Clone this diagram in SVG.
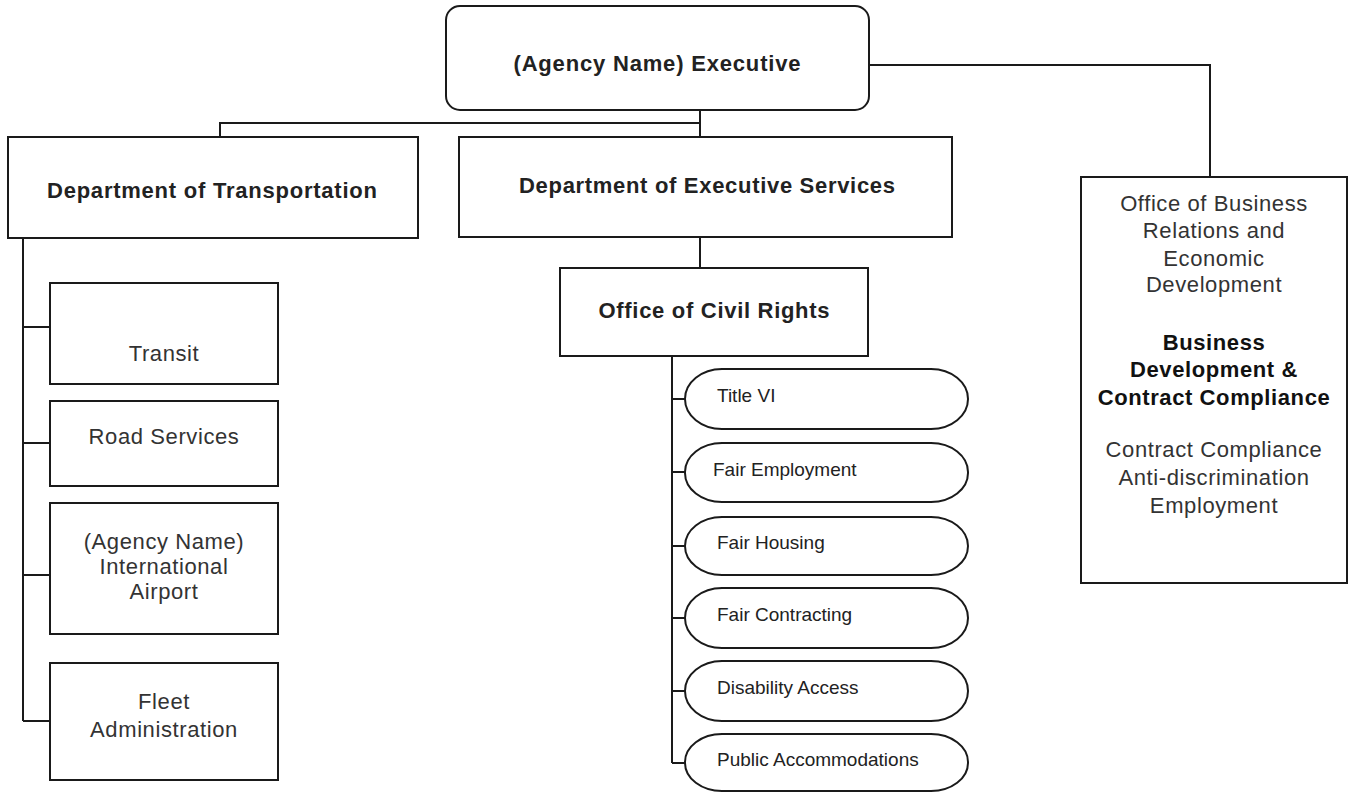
<svg xmlns="http://www.w3.org/2000/svg" width="1349" height="793" viewBox="0 0 1349 793">
<style>
.box{fill:#fff;stroke:#1a1a1a;stroke-width:2}
.pill{fill:#fff;stroke:#1a1a1a;stroke-width:2}
.ln{fill:none;stroke:#1a1a1a;stroke-width:2}
.h{font-family:"Liberation Sans",Arial,sans-serif;font-weight:bold;font-size:22px;fill:#222;text-anchor:middle}
.t{font-family:"Liberation Sans",Arial,sans-serif;font-size:22px;letter-spacing:0.6px;fill:#333;text-anchor:middle}
.p{font-family:"Liberation Sans",Arial,sans-serif;font-size:19px;fill:#222}
.b{font-family:"Liberation Sans",Arial,sans-serif;font-weight:bold;font-size:22px;letter-spacing:0.6px;fill:#111;text-anchor:middle}
</style>
<rect width="1349" height="793" fill="#fff"/>
<g id="connectors">
<path class="ln" d="M869 65H1210V177"/>
<path class="ln" d="M700 110V137"/>
<path class="ln" d="M220 137V123H700"/>
<path class="ln" d="M700 237V268"/>
<path class="ln" d="M23 238V721"/>
<path class="ln" d="M23 327H50M23 443H50M23 575H50M23 721H50"/>
<path class="ln" d="M672 356V763"/>
<path class="ln" d="M672 399H685M672 472H685M672 546H685M672 618H685M672 691H685M672 763H685"/>
</g>
<g id="exec">
<rect class="box" x="446" y="6" width="423" height="104" rx="14"/>
<text class="h" x="657" y="71" textLength="287" lengthAdjust="spacing">(Agency Name) Executive</text>
</g>
<g id="dot">
<rect class="box" x="8" y="137" width="410" height="101"/>
<text class="h" x="212" y="198" textLength="330" lengthAdjust="spacing">Department of Transportation</text>
</g>
<g id="des">
<rect class="box" x="459" y="137" width="493" height="100"/>
<text class="h" x="707" y="193" textLength="376" lengthAdjust="spacing">Department of Executive Services</text>
</g>
<g id="ocr">
<rect class="box" x="560" y="268" width="308" height="88"/>
<text class="h" x="714" y="318" textLength="231" lengthAdjust="spacing">Office of Civil Rights</text>
</g>
<g id="obr">
<rect class="box" x="1081" y="177" width="266" height="406"/>
<text class="t" x="1214" y="211">Office of Business</text>
<text class="t" x="1214" y="238">Relations and</text>
<text class="t" x="1214" y="266">Economic</text>
<text class="t" x="1214" y="292">Development</text>
<text class="b" x="1214" y="350">Business</text>
<text class="b" x="1214" y="377">Development &amp;</text>
<text class="b" x="1214" y="405">Contract Compliance</text>
<text class="t" x="1214" y="457">Contract Compliance</text>
<text class="t" x="1214" y="485">Anti-discrimination</text>
<text class="t" x="1214" y="513">Employment</text>
</g>
<g id="transit">
<rect class="box" x="50" y="283" width="228" height="101"/>
<text class="t" x="164" y="361">Transit</text>
</g>
<g id="road">
<rect class="box" x="50" y="401" width="228" height="85"/>
<text class="t" x="164" y="444">Road Services</text>
</g>
<g id="airport">
<rect class="box" x="50" y="503" width="228" height="131"/>
<text class="t" x="164" y="549">(Agency Name)</text>
<text class="t" x="164" y="574">International</text>
<text class="t" x="164" y="599">Airport</text>
</g>
<g id="fleet">
<rect class="box" x="50" y="663" width="228" height="117"/>
<text class="t" x="164" y="709">Fleet</text>
<text class="t" x="164" y="737">Administration</text>
</g>
<g id="title6">
<rect class="pill" x="685" y="369" width="283" height="60" rx="37" ry="30"/>
<text class="p" x="717" y="402">Title VI</text>
</g>
<g id="fairemp">
<rect class="pill" x="685" y="443" width="283" height="59" rx="37" ry="29"/>
<text class="p" x="713" y="476">Fair Employment</text>
</g>
<g id="fairhousing">
<rect class="pill" x="685" y="517" width="283" height="58" rx="37" ry="29"/>
<text class="p" x="717" y="549">Fair Housing</text>
</g>
<g id="faircontract">
<rect class="pill" x="685" y="588" width="283" height="60" rx="37" ry="30"/>
<text class="p" x="717" y="621">Fair Contracting</text>
</g>
<g id="disability">
<rect class="pill" x="685" y="661" width="283" height="60" rx="37" ry="30"/>
<text class="p" x="717" y="694">Disability Access</text>
</g>
<g id="public">
<rect class="pill" x="685" y="734" width="283" height="57" rx="37" ry="28"/>
<text class="p" x="717" y="766">Public Accommodations</text>
</g>
</svg>
